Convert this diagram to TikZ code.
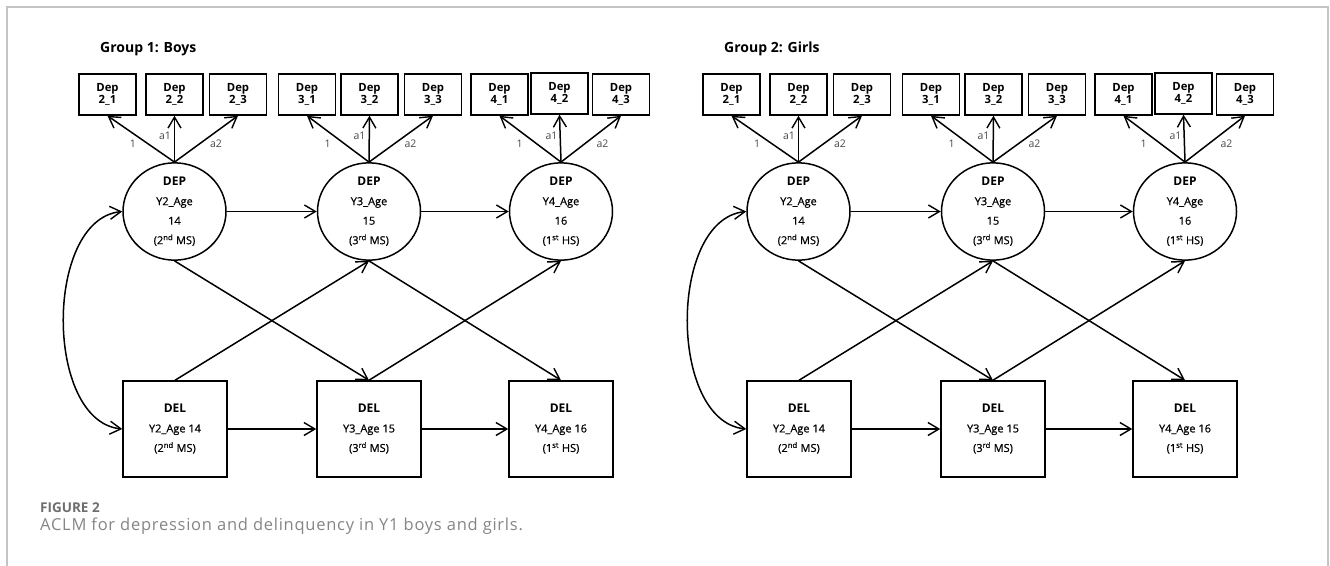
\documentclass[tikz,border=0pt]{standalone}
\usepackage{fontspec}
\setmainfont{Open Sans}
\newfontfamily\medfont[FakeBold=0.6]{Open Sans}
\newfontfamily\capfont[LetterSpace=4.5]{Open Sans}
\usetikzlibrary{arrows.meta,shapes.geometric,calc}
\definecolor{framegray}{HTML}{C4C4C4}
\definecolor{labgray}{HTML}{4A4A4A}
\definecolor{capdark}{HTML}{6E6E6E}
\definecolor{caplight}{HTML}{858585}
\tikzset{
  ln/.style={line width=1.5pt, draw=black},
  barb/.tip={Straight Barb[length=11pt,width=13pt,line width=1.4pt]},
  arr/.style={ln, -barb},
  darr/.style={ln, barb-barb},
  latent/.style={ellipse, draw, line width=1.5pt, minimum width=103pt, minimum height=97pt,
    inner sep=0pt, align=center, font=\medfont\fontsize{11}{19.5}\selectfont},
  ind/.style={rectangle, draw, line width=1.5pt, minimum width=57pt, minimum height=41pt,
    inner sep=0pt, align=center, font=\bfseries\fontsize{11.3}{12}\selectfont},
  delbox/.style={rectangle, draw, line width=1.5pt, minimum width=104pt, minimum height=96pt,
    inner sep=0pt, align=center, font=\medfont\fontsize{11}{19.5}\selectfont},
  lab/.style={inner sep=0pt, text=labgray, font=\fontsize{10.5}{12}\selectfont},
  grouptitle/.style={inner sep=0pt, anchor=base west, font=\bfseries\fontsize{14}{16}\selectfont},
}
\newcommand\bigb[1]{{\normalfont\bfseries\fontsize{12}{19.5}\selectfont #1}}
\newcommand\drawgroup[3]{%
\begin{scope}[xshift=#2]
\node[grouptitle] (#1title) at (100,52.7) {#3};
% latent variables
\node[latent] (#1L1) at (174.5,211.5) {\bigb{DEP}\\Y2\_Age\\14\\(2\textsuperscript{nd} MS)};
\node[latent] (#1L2) at (369,211.5) {\bigb{DEP}\\Y3\_Age\\15\\(3\textsuperscript{rd} MS)};
\node[latent] (#1L3) at (561,211.5) {\bigb{DEP}\\Y4\_Age\\16\\(1\textsuperscript{st} HS)};
% indicators
\node[ind] (#1I21) at (107.5,94.5) {Dep\\2\_1};
\node[ind] (#1I22) at (174.5,94.5) {Dep\\2\_2};
\node[ind] (#1I23) at (238,94.5) {Dep\\2\_3};
\node[ind] (#1I31) at (307,94.5) {Dep\\3\_1};
\node[ind] (#1I32) at (369.5,94.5) {Dep\\3\_2};
\node[ind] (#1I33) at (433,94.5) {Dep\\3\_3};
\node[ind] (#1I41) at (499.5,94.5) {Dep\\4\_1};
\node[ind] (#1I42) at (559.5,93.5) {Dep\\4\_2};
\node[ind] (#1I43) at (621,94.5) {Dep\\4\_3};
% delinquency boxes
\node[delbox] (#1D1) at (175,429) {\bigb{DEL}\\Y2\_Age 14\\(2\textsuperscript{nd} MS)};
\node[delbox] (#1D2) at (369,429) {\bigb{DEL}\\Y3\_Age 15\\(3\textsuperscript{rd} MS)};
\node[delbox] (#1D3) at (561,429) {\bigb{DEL}\\Y4\_Age 16\\(1\textsuperscript{st} HS)};
% loadings
\foreach \k in {2,3,4}{
  \pgfmathtruncatemacro\m{\k-1}
  \draw[arr] (#1L\m.north) -- (#1I\k1.south);
  \draw[arr] (#1L\m.north) -- (#1I\k2.south);
  \draw[arr] (#1L\m.north) -- (#1I\k3.south);
  \node[lab] (#1la\k) at ($(#1L\m.north)+(-41.5,-18)$) {1};
  \node[lab] (#1lb\k) at ($(#1L\m.north)+(-9.5,-26)$) {a1};
  \node[lab] (#1lc\k) at ($(#1L\m.north)+(41.5,-18)$) {a2};
}
% autoregressive paths
\draw[arr] (#1L1.east) -- (#1L2.west);
\draw[arr] (#1L2.east) -- (#1L3.west);
\draw[arr] (#1D1.east) -- (#1D2.west);
\draw[arr] (#1D2.east) -- (#1D3.west);
% cross-lagged paths
\draw[arr] (#1L1.south) -- (#1D2.north);
\draw[arr] (#1D1.north) -- (#1L2.south);
\draw[arr] (#1L2.south) -- (#1D3.north);
\draw[arr] (#1D2.north) -- (#1L3.south);
% covariance
\draw[darr] (#1L1.west) .. controls ($(#1L1.west)+(-78,8)$) and ($(#1D1.west)+(-78,-8)$) .. (#1D1.west);
\end{scope}}

\begin{document}
\begin{tikzpicture}[x=1pt,y=-1pt]
\useasboundingbox (0,0) rectangle (1330,565);
\coordinate (fbl) at (7,566);
\coordinate (ftl) at (7,7);
\coordinate (ftr) at (1328,7);
\coordinate (fbr) at (1328,566);
\draw[framegray, line width=1.5pt] (fbl) -- (ftl) -- (ftr) -- (fbr);
\drawgroup{a}{0pt}{Group 1: Boys}
\drawgroup{b}{624pt}{Group 2: Girls}
\node[inner sep=0pt, anchor=base west, text=capdark, font=\bfseries\fontsize{13.5}{16}\selectfont] (figlab) at (40,512.7) {FIGURE 2};
\node[inner sep=0pt, anchor=base west, text=caplight, font=\capfont\fontsize{16.5}{19}\selectfont] (figcap) at (40,530.7) {ACLM for depression and delinquency in Y1 boys and girls.};
\end{tikzpicture}
\end{document}
